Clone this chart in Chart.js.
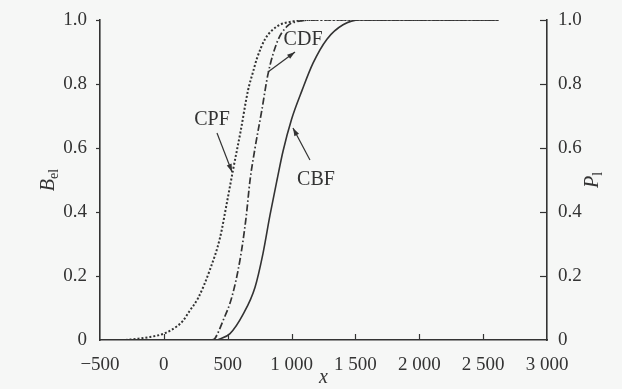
<!DOCTYPE html>
<html>
<head>
<meta charset="utf-8">
<script src="https://cdn.jsdelivr.net/npm/chart.js@4.4.1/dist/chart.umd.min.js"></script>
<style>
html,body{margin:0;padding:0;background:#f6f7f6;}
#wrap{width:622px;height:389px;position:relative;}
</style>
</head>
<body>
<div id="wrap"><canvas id="c" width="622" height="389"></canvas></div>
<script>
// ---- data ----
const cpfX = [-300, -200, -100, 0, 100, 150, 200, 267, 361, 440, 494, 541, 600, 659, 700, 729, 792, 886, 1000, 1200, 1600, 2000, 2620];
const cpfY = [0, 0.004, 0.01, 0.02, 0.042, 0.06, 0.09, 0.13, 0.22, 0.32, 0.43, 0.53, 0.65, 0.78, 0.84, 0.88, 0.94, 0.98, 0.995, 1.0, 1.0, 1.0, 1.0];

const cdfX = [380, 400, 463, 533, 596, 643, 675, 714, 768, 815, 886, 964, 1043, 1200, 1600, 2000, 2620];
const cdfY = [0, 0.005, 0.06, 0.135, 0.25, 0.38, 0.5, 0.6, 0.72, 0.83, 0.93, 0.98, 0.995, 1.0, 1.0, 1.0, 1.0];

const cbfX = [420, 518, 620, 714, 776, 831, 886, 933, 1000, 1082, 1168, 1277, 1403, 1536, 2000, 2620];
const cbfY = [0, 0.02, 0.08, 0.165, 0.27, 0.39, 0.50, 0.59, 0.69, 0.78, 0.865, 0.94, 0.985, 1.0, 1.0, 1.0];

const xTicks = [-500, 0, 500, 1000, 1500, 2000, 2500, 3000];
const yTicks = [0, 0.2, 0.4, 0.6, 0.8, 1.0];

// annotations: [text, textX, textY, arrowFromX, arrowFromY, arrowToX, arrowToY] in data units
const notes = [
  ["CDF", 1090, 0.9375, 815, 0.8375, 1027, 0.90],
  ["CPF", 377, 0.6875, 416, 0.647, 534, 0.525],
  ["CBF", 1191, 0.50, 1144, 0.5625, 1011, 0.6625]
];

const INK = '#333333';
const FONT = "'Liberation Serif', 'Times New Roman', serif";

function pts(xs, ys){ return xs.map((x,i)=>({x:x, y:ys[i]})); }

function fmtX(v){
  if (v < 0) return '\u2212' + Math.abs(v);
  if (v >= 1000) { const s = String(v); return s.slice(0, s.length-3) + ' ' + s.slice(-3); }
  return String(v);
}
function fmtY(v){ return v === 0 ? '0' : Number(v).toFixed(1); }

const decor = {
  id: 'decor',
  afterDraw(chart){
    const ctx = chart.ctx;
    const xs = chart.scales.x, yl = chart.scales.y, yr = chart.scales.y2;
    const area = chart.chartArea;
    ctx.save();
    ctx.strokeStyle = INK; ctx.fillStyle = INK; ctx.lineWidth = 1.2;
    // inward ticks on x axis
    xTicks.forEach(v=>{
      if (v === xTicks[0] || v === xTicks[xTicks.length-1]) return;
      const px = Math.round(xs.getPixelForValue(v)) + 0.5;
      ctx.beginPath(); ctx.moveTo(px, area.bottom); ctx.lineTo(px, area.bottom - 6); ctx.stroke();
    });
    // left axis ticks (outward), right axis ticks (inward)
    yTicks.forEach(v=>{
      const py = Math.round(yl.getPixelForValue(v)) + 0.5;
      if (v !== 0) {
        ctx.beginPath(); ctx.moveTo(area.left - 4, py); ctx.lineTo(area.left, py); ctx.stroke();
        ctx.beginPath(); ctx.moveTo(area.right - 7, py); ctx.lineTo(area.right, py); ctx.stroke();
      }
    });
    // axis titles
    ctx.textAlign = 'center'; ctx.textBaseline = 'middle';
    ctx.font = 'italic 20px ' + FONT;
    ctx.fillText('x', xs.getPixelForValue(1250), 378);
    function rotTitle(cx, cy, main, sub){
      ctx.save();
      ctx.translate(cx, cy); ctx.rotate(-Math.PI/2);
      ctx.font = 'italic 20px ' + FONT;
      const w1 = ctx.measureText(main).width;
      ctx.font = '14px ' + FONT;
      const w2 = ctx.measureText(sub).width;
      const tot = w1 + w2;
      ctx.textAlign = 'left'; ctx.textBaseline = 'alphabetic';
      ctx.font = 'italic 20px ' + FONT;
      ctx.fillText(main, -tot/2, 6);
      ctx.font = '14px ' + FONT;
      ctx.fillText(sub, -tot/2 + w1, 10);
      ctx.restore();
    }
    rotTitle(48, yl.getPixelForValue(0.5), 'B', 'el');
    rotTitle(592, yr.getPixelForValue(0.5), 'P', 'l');
    // annotations
    notes.forEach(n=>{
      const [t, tx, ty, fx, fy, ax, ay] = n;
      ctx.font = '20px ' + FONT; ctx.textAlign = 'center'; ctx.textBaseline = 'middle';
      ctx.fillStyle = INK;
      ctx.fillText(t, xs.getPixelForValue(tx), yl.getPixelForValue(ty));
      const x1 = xs.getPixelForValue(fx), y1 = yl.getPixelForValue(fy);
      const x2 = xs.getPixelForValue(ax), y2 = yl.getPixelForValue(ay);
      ctx.lineWidth = 1.2;
      ctx.beginPath(); ctx.moveTo(x1, y1); ctx.lineTo(x2, y2); ctx.stroke();
      const ang = Math.atan2(y2 - y1, x2 - x1), L = 8, W = 2.6;
      ctx.beginPath();
      ctx.moveTo(x2, y2);
      ctx.lineTo(x2 - L*Math.cos(ang) + W*Math.sin(ang), y2 - L*Math.sin(ang) - W*Math.cos(ang));
      ctx.lineTo(x2 - L*Math.cos(ang) - W*Math.sin(ang), y2 - L*Math.sin(ang) + W*Math.cos(ang));
      ctx.closePath(); ctx.fill();
    });
    ctx.restore();
  }
};

new Chart(document.getElementById('c'), {
  type: 'scatter',
  data: {
    datasets: [
      { label: 'CPF', data: pts(cpfX, cpfY), showLine: true, borderColor: INK, borderWidth: 2, borderDash: [2, 2], pointRadius: 0, cubicInterpolationMode: 'monotone', fill: false },
      { label: 'CDF', data: pts(cdfX, cdfY), showLine: true, borderColor: INK, borderWidth: 1.7, borderDash: [7, 2.5, 1.5, 2.5], pointRadius: 0, cubicInterpolationMode: 'monotone', fill: false },
      { label: 'CBF', data: pts(cbfX, cbfY), showLine: true, borderColor: INK, borderWidth: 1.6, pointRadius: 0, cubicInterpolationMode: 'monotone', fill: false }
    ]
  },
  options: {
    responsive: false,
    animation: false,
    devicePixelRatio: 1,
    layout: { padding: { top: 20, left: 0, right: 0, bottom: 0 } },
    plugins: { legend: { display: false }, tooltip: { enabled: false } },
    scales: {
      x: {
        type: 'linear', min: -500, max: 3000,
        afterBuildTicks: s => { s.ticks = xTicks.map(v => ({ value: v })); },
        afterFit: s => { s.height = 49; },
        grid: { display: false },
        border: { display: true, color: INK, width: 1.6 },
        ticks: { color: INK, font: { family: FONT, size: 19 }, padding: 6, maxRotation: 0, autoSkip: false, callback: v => fmtX(v) }
      },
      y: {
        type: 'linear', position: 'left', min: 0, max: 1,
        afterBuildTicks: s => { s.ticks = yTicks.map(v => ({ value: v })); },
        afterFit: s => { s.width = 100; },
        grid: { display: false },
        border: { display: true, color: INK, width: 1.6 },
        ticks: { color: INK, font: { family: FONT, size: 19 }, padding: 5, callback: v => fmtY(v) }
      },
      y2: {
        type: 'linear', position: 'right', min: 0, max: 1,
        afterBuildTicks: s => { s.ticks = yTicks.map(v => ({ value: v })); },
        afterFit: s => { s.width = 75; },
        grid: { display: false },
        border: { display: true, color: INK, width: 1.6 },
        ticks: { color: INK, font: { family: FONT, size: 19 }, padding: 3, callback: v => fmtY(v) }
      }
    }
  },
  plugins: [decor]
});
</script>
</body>
</html>
